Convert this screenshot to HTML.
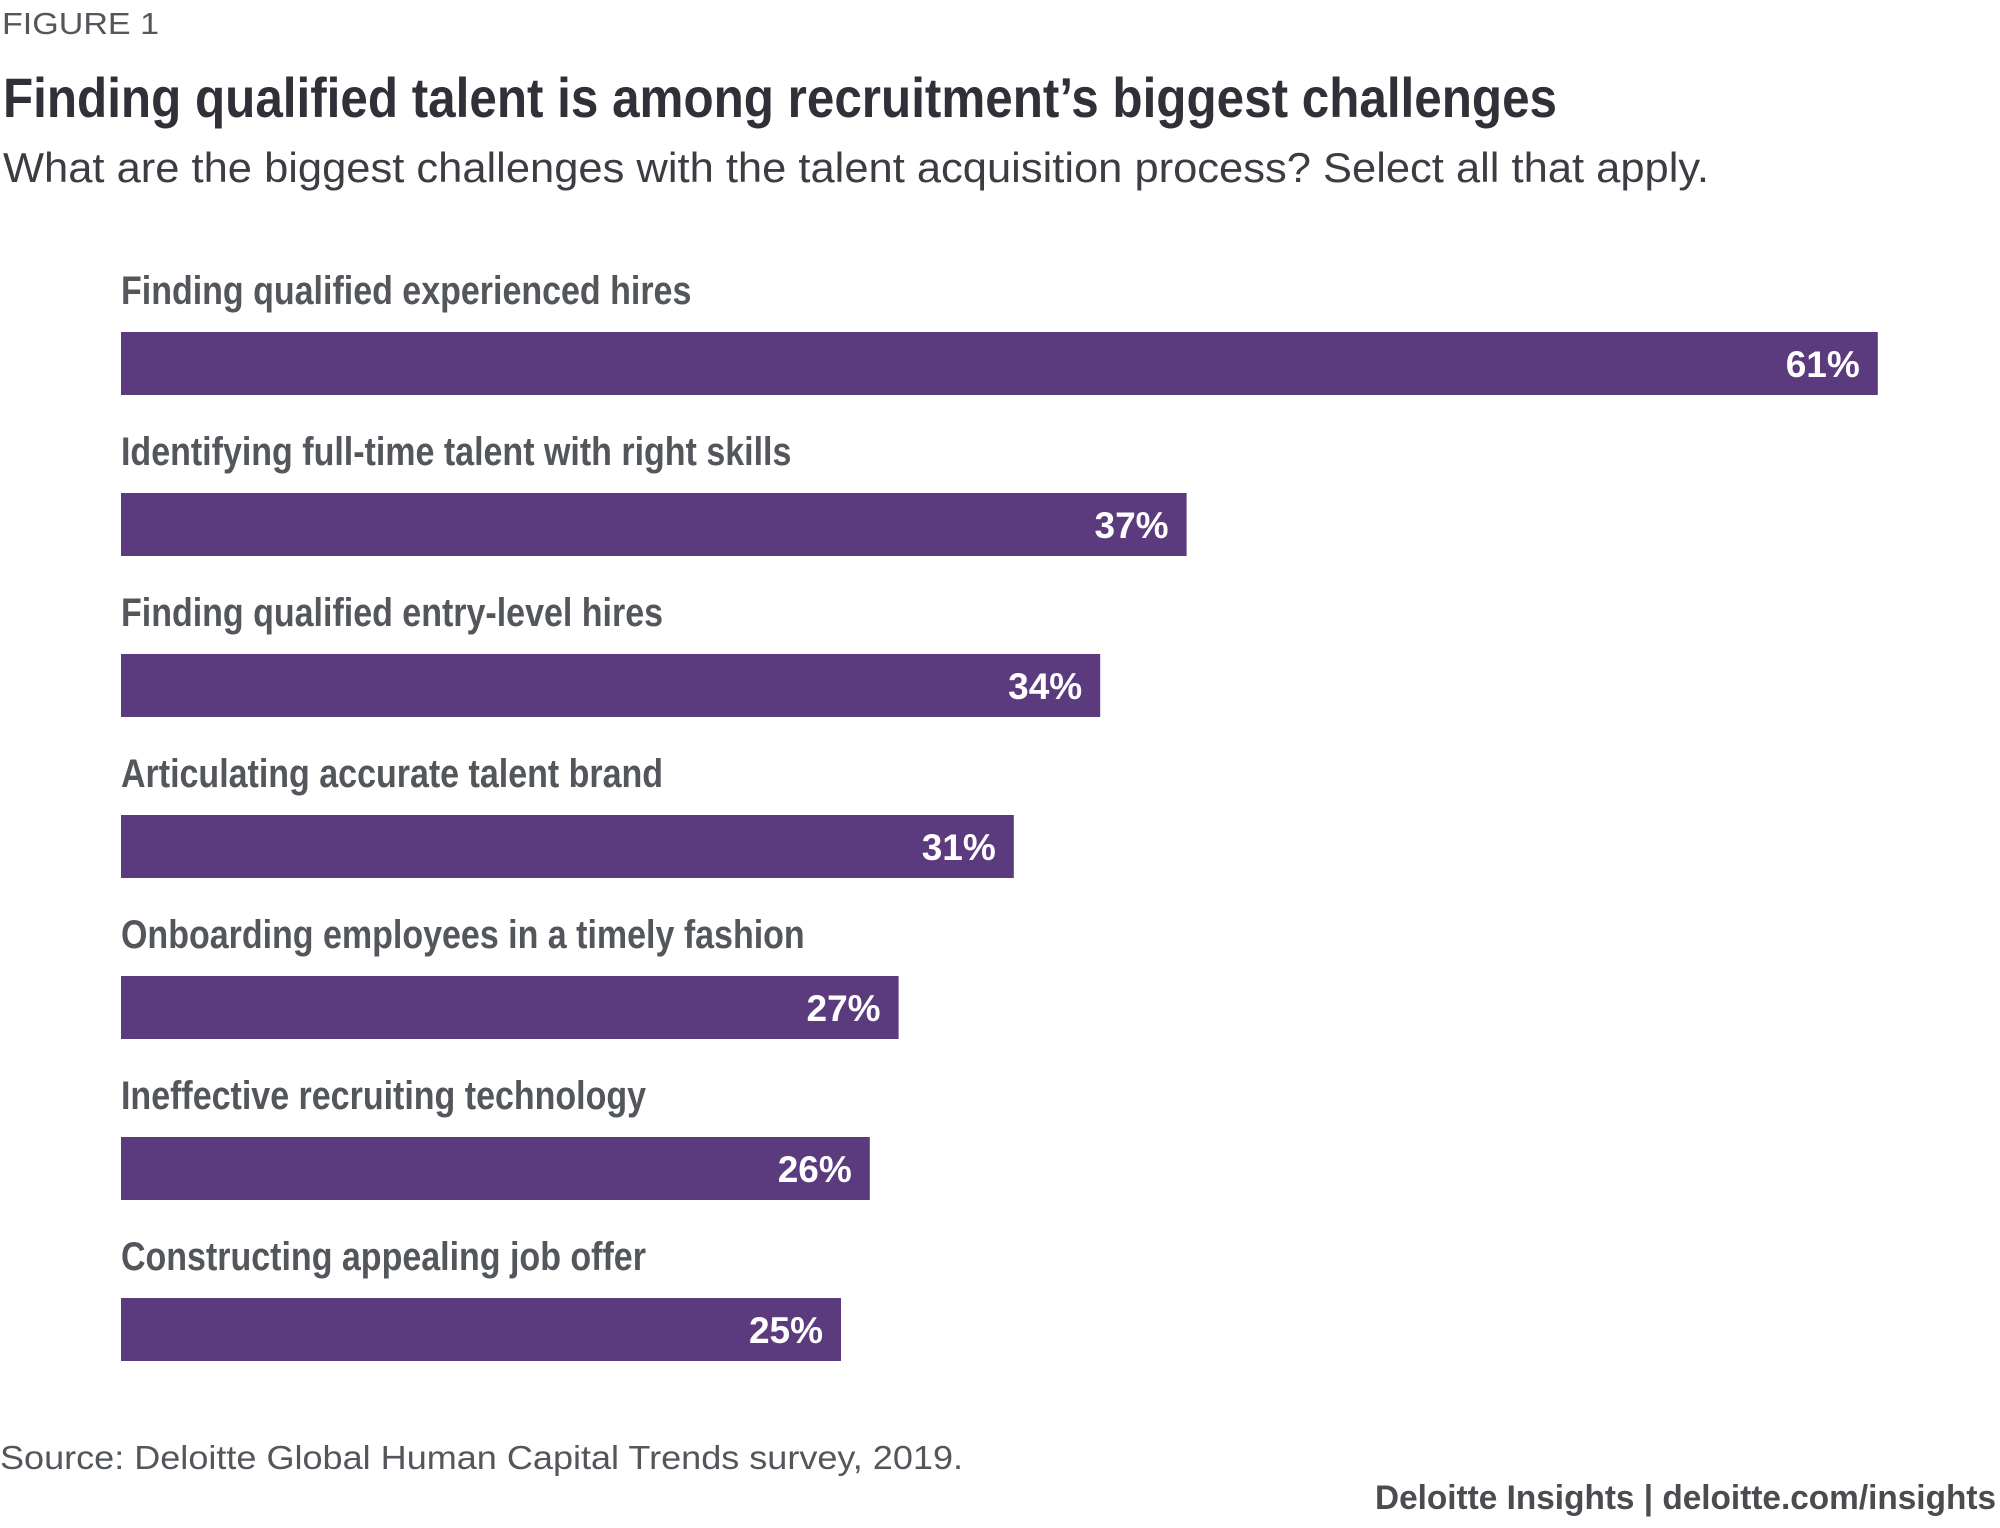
<!DOCTYPE html>
<html><head><meta charset="utf-8"><style>
html,body{margin:0;padding:0;background:#fff}
svg{display:block;font-family:"Liberation Sans",sans-serif}
</style></head><body>
<svg width="2000" height="1528" viewBox="0 0 2000 1528">
<text x="2" y="34" font-size="31" fill="#53565a" textLength="157" lengthAdjust="spacingAndGlyphs">FIGURE 1</text>
<text x="3" y="117" font-size="56" font-weight="bold" fill="#2f3038" textLength="1554" lengthAdjust="spacingAndGlyphs">Finding qualified talent is among recruitment’s biggest challenges</text>
<text x="3" y="182" font-size="42" fill="#3b3d42" textLength="1706" lengthAdjust="spacingAndGlyphs">What are the biggest challenges with the talent acquisition process? Select all that apply.</text>
<g id="bars"></g>
<text x="0" y="1469" font-size="33" fill="#53565a" textLength="963" lengthAdjust="spacingAndGlyphs">Source: Deloitte Global Human Capital Trends survey, 2019.</text>
<text x="1996" y="1509" font-size="34" font-weight="bold" fill="#4a4c50" text-anchor="end" textLength="621" lengthAdjust="spacingAndGlyphs">Deloitte Insights | deloitte.com/insights</text>
</svg>
<script>
const categories = ["Finding qualified experienced hires","Identifying full-time talent with right skills","Finding qualified entry-level hires","Articulating accurate talent brand","Onboarding employees in a timely fashion","Ineffective recruiting technology","Constructing appealing job offer"];
const values = [61,37,34,31,27,26,25];
const valueLabels = ["61%","37%","34%","31%","27%","26%","25%"];
const NS="http://www.w3.org/2000/svg";
const x0=121, pxPer=28.8, top0=332, step=161, bh=63;
function xScale(v){return x0+v*pxPer;}
function yScale(i){return top0+i*step;}
const g=document.getElementById('bars');
categories.forEach((c,i)=>{
  const y=yScale(i);
  const lab=document.createElementNS(NS,'text');
  
  
  lab.setAttribute('x',x0);lab.setAttribute('y',y-28);
  lab.setAttribute('font-size','40');lab.setAttribute('font-weight','bold');
  lab.setAttribute('fill','#53565a');
  lab.setAttribute('transform',`translate(${x0},0) scale(0.85,1) translate(${-x0},0)`);
  lab.textContent=c;g.appendChild(lab);
  const r=document.createElementNS(NS,'rect');
  
  
  r.setAttribute('x',x0);r.setAttribute('y',y);
  r.setAttribute('width',xScale(values[i])-x0);r.setAttribute('height',bh);
  r.setAttribute('fill','#5c3a7e');g.appendChild(r);
  const v=document.createElementNS(NS,'text');
  
  
  v.setAttribute('x',xScale(values[i])-18);v.setAttribute('y',y+45);
  v.setAttribute('text-anchor','end');v.setAttribute('font-size','37');
  v.setAttribute('font-weight','bold');v.setAttribute('fill','#fff');
  v.textContent=valueLabels[i];g.appendChild(v);
});
</script>
</body></html>
